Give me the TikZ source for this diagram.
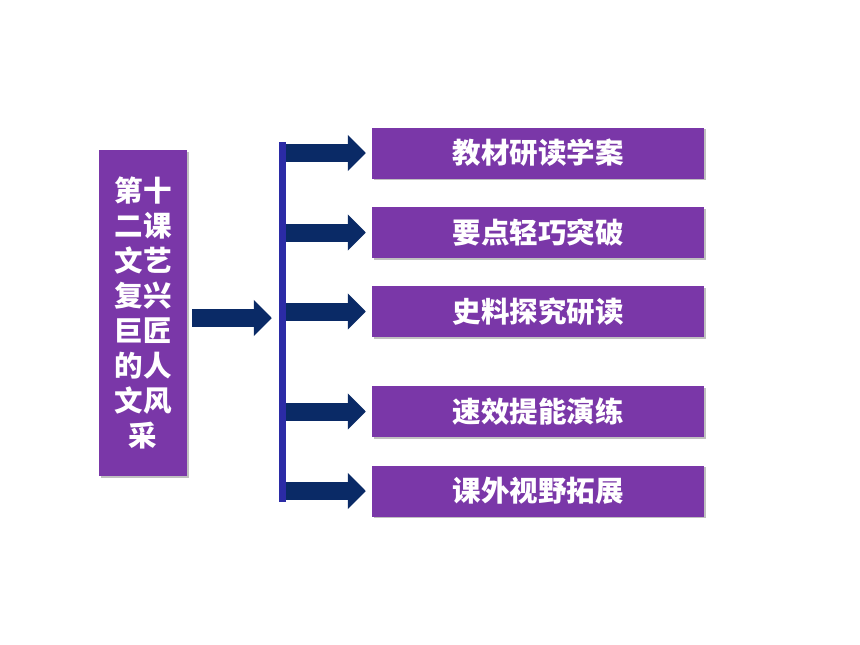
\documentclass[tikz,border=0pt]{standalone}
\usepackage{fontspec}
\newfontfamily\cjk{Noto Sans CJK SC}
\usetikzlibrary{arrows.meta,shadows}
\definecolor{boxpurple}{HTML}{7A37A8}
\definecolor{arrownavy}{HTML}{0A2A66}
\definecolor{barblue}{HTML}{2B2BA6}
\tikzset{
  pbox/.style={fill=boxpurple, draw=none, text=white, font=\cjk\bfseries\fontsize{28.5}{35}\selectfont,
    drop shadow={shadow xshift=1.5pt, shadow yshift=-1.5pt, opacity=0.35, fill=black!70}},
  rbox/.style={pbox, minimum width=332pt, minimum height=51pt, inner sep=0pt},
  blockarrow/.style={draw=arrownavy, line width=18pt, line cap=butt,
    -{Triangle[length=18pt,width=35pt]}}
}
\begin{document}
\begin{tikzpicture}[x=1pt,y=-1pt]
\useasboundingbox (0,0) rectangle (860,645);
\fill[white] (0,0) rectangle (860,645);
% left box
\node[pbox, minimum width=88pt, minimum height=326pt, inner sep=0pt, align=center] (L) at (143,313)
  {第十\\二课\\文艺\\复兴\\巨匠\\的人\\文风\\采};
% vertical bar
\node[fill=barblue, minimum width=7pt, minimum height=360pt, inner sep=0pt] (bar) at (282.5,322) {};
% right boxes
\node[rbox] (b1) at (538,153) {教材研读学案};
\node[rbox] (b2) at (538,232.5) {要点轻巧突破};
\node[rbox] (b3) at (538,311.5) {史料探究研读};
\node[rbox] (b4) at (538,411.5) {速效提能演练};
\node[rbox] (b5) at (538,491) {课外视野拓展};
% main arrow
\coordinate (ms) at (192,318);
\draw[blockarrow, shorten >=7pt] (ms) -- (ms -| bar.west);
% branch arrows
\foreach \b in {b1,b2,b3,b4,b5}{
  \draw[blockarrow, shorten >=6pt] (bar.east |- \b.west) -- (\b.west);
}
\end{tikzpicture}
\end{document}
